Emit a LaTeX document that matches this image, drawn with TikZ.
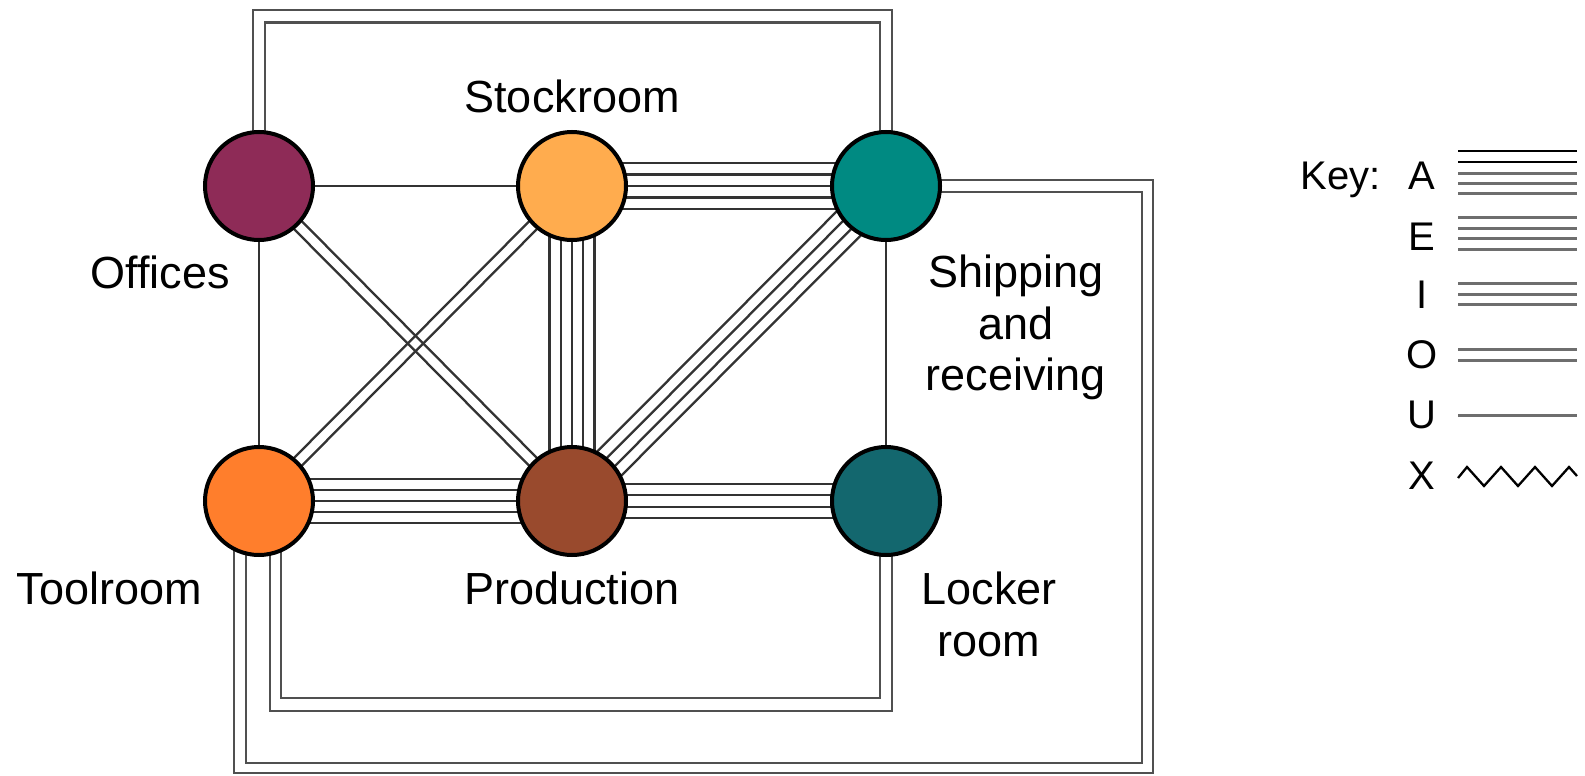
\documentclass[tikz,border=0pt]{standalone}
\usepackage{fontspec}
\setmainfont{Liberation Sans}
\usetikzlibrary{calc}
\pgfdeclarelayer{bg}
\pgfsetlayers{bg,main}

\definecolor{offc}{HTML}{8E2B57}
\definecolor{stockc}{HTML}{FFAC4E}
\definecolor{shipc}{HTML}{008A82}
\definecolor{toolc}{HTML}{FF7E2C}
\definecolor{prodc}{HTML}{994A2D}
\definecolor{lockc}{HTML}{13676E}
\definecolor{linkgray}{HTML}{333333}
\definecolor{loopgray}{HTML}{505050}
\definecolor{keygray}{HTML}{6E6E6E}

\tikzset{
  dept/.style={circle, draw=black, line width=4pt, minimum size=108pt, inner sep=0pt},
  conn/.style={draw=linkgray, line width=2.3pt},
  loopline/.style={draw=loopgray, line width=2.8pt},
  lbl/.style={font=\fontsize{45}{52}\selectfont, inner sep=0pt, anchor=base},
  keytxt/.style={font=\fontsize{40}{48}\selectfont, inner sep=0pt, anchor=base},
  keyline/.style={draw=keygray, line width=3pt},
}

% n parallel strokes between two departments, offsets given in pt
\newcommand\ties[3]{%
  \foreach \k in {#3}{%
    \draw[conn] ($(#1)!\k pt!90:(#2)$) -- ($(#2)!\k pt!-90:(#1)$);
  }}

\begin{document}
\begin{tikzpicture}[x=1pt, y=-1pt]
\useasboundingbox (0,0) rectangle (1585,776);

% departments
\node[dept, fill=offc]   (off) at (259,186) {};
\node[dept, fill=stockc] (stk) at (572,186) {};
\node[dept, fill=shipc]  (shp) at (886,186) {};
\node[dept, fill=toolc]  (tol) at (259,501) {};
\node[dept, fill=prodc]  (prd) at (572,501) {};
\node[dept, fill=lockc]  (lck) at (886,501) {};

% labels
\node[lbl] (lstk) at (572,112) {Stockroom};
\node[lbl] (loff) at (160,288) {Offices};
\node[lbl] (lshp1) at (1016,287) {Shipping};
\node[lbl] (lshp2) at (1016,339) {and};
\node[lbl] (lshp3) at (1016,390) {receiving};
\node[lbl] (ltol) at (109,604) {Toolroom};
\node[lbl] (lprd) at (572,604) {Production};
\node[lbl] (llck1) at (989,604) {Locker};
\node[lbl] (llck2) at (989,656) {room};

% loop levels
\coordinate (topO) at (0,10);
\coordinate (topI) at (0,22.5);
\coordinate (rO) at (1153,773);
\coordinate (rI) at (1142,763);
\coordinate (bO) at (0,711);
\coordinate (bI) at (0,698);

\begin{pgfonlayer}{bg}
  % direct relationships
  \ties{off}{stk}{0}
  \ties{off}{tol}{0}
  \ties{shp}{lck}{0}
  \ties{off}{prd}{-5.5,5.5}
  \ties{stk}{tol}{-5.5,5.5}
  \ties{stk}{prd}{-22.6,-11.3,0,11.3,22.6}
  \ties{stk}{shp}{-23,-11.5,0,11.5,23}
  \ties{tol}{prd}{-22,-11,0,11,22}
  \ties{prd}{shp}{-17,-5.7,5.7,17}
  \ties{prd}{lck}{-17,-5.7,5.7,17}

  % offices to shipping, over the top
  \path ($(off)+(-6,0)$) coordinate (oL) ($(off)+(6,0)$) coordinate (iL)
        ($(shp)+(6,0)$) coordinate (oR) ($(shp)+(-6,0)$) coordinate (iR);
  \draw[loopline] (oL) -- (oL |- topO) -- (oR |- topO) -- (oR);
  \draw[loopline] (iL) -- (iL |- topI) -- (iR |- topI) -- (iR);

  % shipping to toolroom, round the outside
  \path ($(shp)+(0,-6)$) coordinate (s1) ($(shp)+(0,6)$) coordinate (s2)
        ($(tol)+(-25,0)$) coordinate (t1) ($(tol)+(-13,0)$) coordinate (t2);
  \draw[loopline] (s1) -- (s1 -| rO) -- (rO) -- (rO -| t1) -- (t1);
  \draw[loopline] (s2) -- (s2 -| rI) -- (rI) -- (rI -| t2) -- (t2);

  % toolroom to locker room, underneath
  \path ($(tol)+(11,0)$) coordinate (t3) ($(tol)+(22,0)$) coordinate (t4)
        ($(lck)+(6,0)$) coordinate (l1) ($(lck)+(-6,0)$) coordinate (l2);
  \draw[loopline] (t3) -- (t3 |- bO) -- (l1 |- bO) -- (l1);
  \draw[loopline] (t4) -- (t4 |- bI) -- (l2 |- bI) -- (l2);
\end{pgfonlayer}

% key
\node[keytxt, anchor=base east] (key) at (1381,189) {Key:};
\node[keytxt] (kA) at (1422,189) {A};
\node[keytxt] (kE) at (1422,250) {E};
\node[keytxt] (kI) at (1422,308) {I};
\node[keytxt] (kO) at (1422,368) {O};
\node[keytxt] (kU) at (1422,428) {U};
\node[keytxt] (kX) at (1422,489) {X};

\draw[keyline, draw=black, line width=2.2pt] (1458,151) -- (1577,151);
\draw[keyline, draw=black, line width=2.2pt] (1458,162) -- (1577,162);
\foreach \yy in {173,183.5,193.5, 217,228,238.5,249, 283.5,294,304.5, 349.5,360, 415.5}
  \draw[keyline] (1458,\yy) -- (1577,\yy);
\draw[conn, draw=black, line join=miter] (1458,478) -- (1467,467) -- (1484,486) -- (1501,467)
  -- (1518,486) -- (1535,467) -- (1552,486) -- (1569,467) -- (1577,476);
\end{tikzpicture}
\end{document}
